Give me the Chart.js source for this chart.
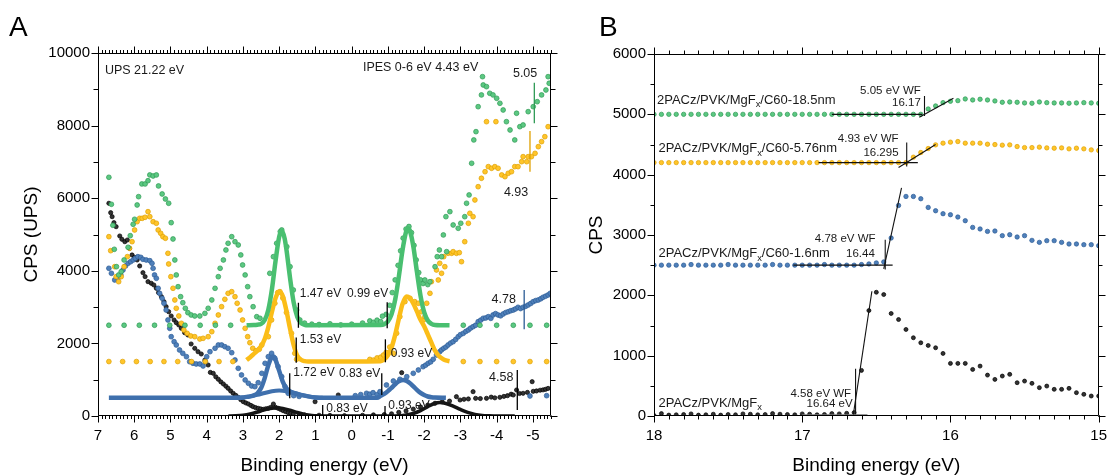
<!DOCTYPE html>
<html><head><meta charset="utf-8">
<script src="https://cdn.jsdelivr.net/npm/chart.js@4.4.1/dist/chart.umd.min.js"></script>
<style>
html,body{margin:0;padding:0;background:#fff;}
#wrap{position:relative;width:1118px;height:476px;overflow:hidden;}
canvas{position:absolute;top:0;}
#ca{left:0;}
#cb{left:565px;}
.lab{position:absolute;font:28px 'Liberation Sans',Arial,sans-serif;line-height:28px;color:#000;}
</style></head><body>
<div id="wrap">
<canvas id="ca" width="565" height="476"></canvas>
<canvas id="cb" width="553" height="476"></canvas>
<div class="lab" style="left:9px;top:13px">A</div>
<div class="lab" style="left:599px;top:13px">B</div>
</div>
<script>
// ---------------- Panel A data (binding energy eV, CPS) ----------------
const xTicksA = [7,6,5,4,3,2,1,0,-1,-2,-3,-4,-5];
const xTicksB = [18,17,16,15];

const greenUps = [[6.70,6576],[6.63,5832],[6.59,5254],[6.55,4592],[6.49,4113],[6.43,3885],[6.36,3976],[6.28,4298],[6.17,4648],[6.11,4967],[6.03,5281],[5.99,5419],[5.92,5813],[5.88,6042],[5.79,6392],[5.70,6392],[5.62,6482],[5.57,6640],[5.48,6612],[5.39,6640],[5.33,6337],[5.23,6116],[5.14,5978],[5.05,5860],[4.98,5326],[4.93,4876],[4.88,4298],[4.84,3885],[4.79,3562],[4.72,3287],[4.66,3121],[4.59,2967],[4.52,2846],[4.43,2783],[4.33,2755],[4.19,2755],[4.05,2828],[3.96,2967],[3.86,3196],[3.77,3517],[3.68,3838],[3.63,4069],[3.54,4298],[3.47,4573],[3.41,4758],[3.31,4940],[3.22,4802],[3.13,4711],[3.06,4436],[3.01,4160],[2.94,3885],[2.87,3562],[2.81,3287],[2.72,3011],[2.62,2736],[2.53,2692],[2.26,3931],[2.16,4389],[2.07,4758],[1.97,5080],[1.93,5124],[1.79,4664],[1.70,4113],[1.61,3471],[1.52,2920],[1.43,2645],[1.30,2560],[1.10,2530],[0.90,2520],[0.60,2540],[0.30,2510],[0.00,2530],[-0.30,2560],[-0.50,2620],[-0.60,2580],[-0.70,2640],[-0.80,2600],[-0.85,2750]];
const greenIpes = [[-0.95,2800],[-1.05,3050],[-1.12,3400],[-1.20,3750],[-1.28,4150],[-1.35,4550],[-1.42,4900],[-1.50,5150],[-1.58,5220],[-1.65,5050],[-1.72,4700],[-1.78,4300],[-1.85,3950],[-1.90,3750],[-1.97,3650],[-2.02,3747],[-2.10,3620],[-2.16,3700],[-2.30,4113],[-2.36,4389],[-2.42,4573],[-2.48,4389],[-2.53,4987],[-2.60,5491],[-2.62,4527],[-2.71,5629],[-2.80,5262],[-2.94,5171],[-3.01,5309],[-3.12,5491],[-3.17,5860],[-3.24,6089],[-3.31,6962],[-3.37,7604],[-3.43,7833],[-3.49,8521],[-3.58,8844],[-3.61,9348],[-3.63,9119],[-3.72,9073],[-3.81,8890],[-3.90,8844],[-4.00,8752],[-4.09,8615],[-4.18,8430],[-4.27,8108],[-4.37,7879],[-4.50,7604],[-4.55,8340],[-4.64,7970],[-4.73,8017],[-4.87,8384],[-5.01,8521],[-5.12,8659],[-5.24,8844],[-5.36,8981],[-5.42,9348],[-5.45,9166]];
const greenBase = [[6.70,2500],[6.28,2500],[5.86,2500],[5.44,2500],[5.02,2500],[4.60,2500],[4.18,2500],[3.76,2500],[3.34,2500],[-3.08,2500],[-3.54,2500],[-4.00,2500],[-4.46,2500],[-4.92,2500],[-5.38,2500]];
const greenFit = [[2.90,2500],[2.70,2505],[2.60,2515],[2.50,2536],[2.40,2642],[2.30,2930],[2.20,3496],[2.10,4278],[2.00,4938],[1.93,5100],[1.85,4890],[1.80,4582],[1.70,3796],[1.60,3122],[1.50,2729],[1.40,2564],[1.30,2512],[1.20,2500],[-0.80,2507],[-0.90,2530],[-1.00,2606],[-1.10,2802],[-1.20,3202],[-1.30,3830],[-1.40,4550],[-1.50,5073],[-1.56,5170],[-1.60,5127],[-1.70,4682],[-1.80,3974],[-1.90,3312],[-2.00,2863],[-2.10,2632],[-2.20,2539],[-2.30,2510],[-2.70,2500]];

const yellowUps = [[6.70,4940],[6.65,4554],[6.54,4113],[6.50,3838],[6.43,3700],[6.36,3838],[6.28,4113],[6.19,4389],[6.13,4620],[6.06,4802],[5.99,5124],[5.92,5353],[5.85,5446],[5.78,5446],[5.70,5474],[5.62,5629],[5.57,5491],[5.48,5353],[5.39,5309],[5.34,5124],[5.27,5033],[5.21,4940],[5.14,4896],[5.07,4482],[5.05,4188],[4.99,3838],[4.93,3518],[4.88,3196],[4.84,2967],[4.77,2755],[4.70,2554],[4.63,2369],[4.54,2278],[4.44,2204],[4.33,2185],[4.19,2121],[4.10,2140],[3.96,2185],[3.86,2322],[3.77,2554],[3.68,2783],[3.59,3011],[3.50,3215],[3.41,3380],[3.31,3425],[3.22,3287],[3.16,3105],[3.08,2920],[3.01,2645],[2.94,2415],[2.87,2185],[2.81,2019],[2.73,1865],[2.64,1799],[2.55,1838],[2.48,1956],[2.30,2185],[2.21,2645],[2.12,3105],[2.04,3400],[1.98,3425],[1.90,3250],[1.80,2850],[1.66,2278],[1.57,1727],[1.52,1562]];
const yellowIpes = [[-0.50,1560],[-0.60,1540],[-0.70,1600],[-0.80,1620],[-0.88,1680],[-0.95,1750],[-1.05,1900],[-1.15,1727],[-1.24,2278],[-1.33,2736],[-1.47,3150],[-1.61,3243],[-1.74,3150],[-1.84,3105],[-1.93,2873],[-1.98,2645],[-2.02,2736],[-2.07,3105],[-2.16,3380],[-2.20,3700],[-2.34,4022],[-2.39,3747],[-2.43,4206],[-2.48,3931],[-2.54,4389],[-2.57,4113],[-2.66,4482],[-2.76,4482],[-2.80,4527],[-2.89,4482],[-2.97,4500],[-3.03,4251],[-3.12,4802],[-3.22,5309],[-3.26,5584],[-3.35,5491],[-3.40,5951],[-3.49,6317],[-3.58,6549],[-3.68,6730],[-3.72,8108],[-3.77,6869],[-3.86,6824],[-3.95,6869],[-3.98,8108],[-4.04,6824],[-4.14,6640],[-4.23,6593],[-4.32,6686],[-4.41,6730],[-4.50,6869],[-4.59,6869],[-4.69,7006],[-4.73,7144],[-4.83,7006],[-4.87,7144],[-4.96,7144],[-5.06,7236],[-5.15,7420],[-5.24,7558],[-5.33,7695],[-5.42,7970]];
const yellowBase = [[6.70,1500],[6.32,1500],[5.94,1500],[5.56,1500],[5.18,1500],[4.80,1500],[4.42,1500],[4.04,1500],[3.66,1500],[3.28,1500],[-3.08,1500],[-3.54,1500],[-4.00,1500],[-4.46,1500],[-4.92,1500],[-5.38,1500]];
const yellowFit = [[2.90,1540],[2.80,1620],[2.70,1710],[2.60,1800],[2.50,1920],[2.40,2120],[2.30,2450],[2.20,2870],[2.10,3250],[2.00,3425],[1.95,3400],[1.90,3300],[1.80,2900],[1.70,2400],[1.60,1950],[1.50,1660],[1.40,1550],[1.30,1510],[1.20,1500],[-0.80,1510],[-0.90,1563],[-1.00,1671],[-1.10,1887],[-1.20,2236],[-1.30,2675],[-1.40,3080],[-1.52,3290],[-1.60,3250],[-1.70,3100],[-1.80,2880],[-1.90,2650],[-2.00,2470],[-2.10,2250],[-2.20,2020],[-2.30,1800],[-2.40,1660],[-2.50,1580],[-2.60,1530],[-2.70,1510]];

const blueUps = [[6.70,4069],[6.63,3931],[6.54,3747],[6.45,3793],[6.37,3885],[6.31,4022],[6.24,4133],[6.17,4206],[6.10,4251],[6.03,4298],[5.97,4344],[5.90,4389],[5.82,4371],[5.76,4316],[5.67,4298],[5.57,4279],[5.51,4206],[5.48,4069],[5.44,3885],[5.39,3793],[5.34,3518],[5.30,3380],[5.23,3243],[5.18,3105],[5.12,2920],[5.07,2645],[5.02,2415],[4.98,2185],[4.90,2047],[4.84,1956],[4.75,1818],[4.66,1727],[4.56,1634],[4.47,1496],[4.38,1452],[4.29,1433],[4.19,1433],[4.10,1378],[4.04,1496],[4.00,1634],[3.91,1771],[3.77,1865],[3.68,1956],[3.59,1956],[3.50,1910],[3.41,1865],[3.31,1744],[3.22,1543],[3.13,1314],[3.04,1130],[2.94,992],[2.85,901],[2.76,827],[2.67,807],[2.58,917],[2.48,1176],[2.39,1452],[2.30,1634],[2.21,1727],[2.12,1590],[2.03,1358],[1.93,1083],[1.84,807],[1.75,624],[1.60,560],[1.45,540]];
const blueIpes = [[-0.10,560],[-0.25,590],[-0.41,625],[-0.50,600],[-0.59,642],[-0.70,590],[-0.78,670],[-0.96,854],[-1.15,964],[-1.33,1011],[-1.52,1083],[-1.70,1176],[-1.84,1267],[-1.97,1358],[-2.04,1400],[-2.11,1452],[-2.18,1490],[-2.25,1562],[-2.34,1680],[-2.43,1771],[-2.48,1820],[-2.54,1865],[-2.60,1900],[-2.66,1956],[-2.73,2010],[-2.80,2047],[-2.87,2110],[-2.94,2185],[-3.00,2240],[-3.08,2278],[-3.15,2330],[-3.22,2369],[-3.28,2420],[-3.35,2460],[-3.42,2500],[-3.49,2598],[-3.56,2640],[-3.63,2692],[-3.70,2700],[-3.77,2736],[-3.84,2690],[-3.90,2783],[-3.97,2820],[-4.04,2783],[-4.11,2760],[-4.18,2810],[-4.25,2850],[-4.32,2873],[-4.39,2900],[-4.46,2920],[-4.52,2950],[-4.59,2995],[-4.66,2960],[-4.73,2995],[-4.80,3020],[-4.87,3058],[-4.94,3100],[-5.01,3150],[-5.08,3180],[-5.15,3196],[-5.22,3230],[-5.28,3270],[-5.35,3300],[-5.42,3334],[-5.48,3380],[-4.92,551],[-5.38,560]];
const blueFit = [[6.70,500],[3.20,500],[3.00,510],[2.90,527],[2.80,541],[2.70,569],[2.60,627],[2.50,770],[2.40,1045],[2.30,1401],[2.20,1625],[2.15,1640],[2.10,1545],[2.00,1242],[1.90,940],[1.80,760],[1.70,678],[1.60,637],[1.40,582],[1.20,540],[1.00,510],[0.80,500],[-0.70,500],[-0.80,558],[-0.90,610],[-1.00,685],[-1.10,778],[-1.20,876],[-1.30,954],[-1.42,992],[-1.50,975],[-1.60,911],[-1.70,818],[-1.80,721],[-1.90,637],[-2.00,576],[-2.10,538],[-2.20,517],[-2.30,507],[-2.60,500]];
const blueBroad = [[3.20,503],[3.00,510],[2.80,540],[2.60,582],[2.40,634],[2.20,682],[2.00,700],[1.80,682],[1.60,634],[1.40,582],[1.20,540],[1.00,510],[0.80,503]];

const blackUps = [[6.70,5860],[6.65,5601],[6.61,5491],[6.56,5326],[6.50,5215],[6.40,4959],[6.34,4868],[6.26,4802],[6.19,4849],[6.13,4620],[6.06,4436],[5.99,4371],[5.92,4298],[5.85,4133],[5.76,3948],[5.70,3838],[5.62,3700],[5.53,3656],[5.46,3609],[5.39,3518],[5.33,3397],[5.25,3287],[5.18,3150],[5.12,3011],[5.05,2873],[4.98,2755],[4.90,2645],[4.84,2570],[4.77,2507],[4.70,2415],[4.61,2295],[4.52,2232],[4.43,1984],[4.33,1865],[4.24,1771],[4.15,1708],[4.05,1543],[3.96,1405],[3.90,1200],[3.82,1176],[3.75,1080],[3.68,1011],[3.61,940],[3.54,882],[3.47,820],[3.41,763],[3.34,690],[3.27,625],[3.20,570],[3.13,515],[3.06,450],[2.99,394],[2.92,360],[2.85,331],[2.78,290],[2.72,256],[2.65,230],[2.58,212],[2.51,195],[2.44,184],[2.37,200],[2.30,212],[2.23,240],[2.16,330],[2.10,240],[2.03,212],[1.96,180],[1.89,146],[1.82,120],[1.75,91],[1.68,70],[1.61,55],[1.45,40],[1.30,30],[1.01,394],[0.90,20],[0.60,15],[0.37,579],[0.20,10]];
const blackIpes = [[-0.30,20],[-0.60,30],[-0.90,40],[-1.10,60],[-1.38,1193],[-1.30,100],[-1.50,140],[-1.70,190],[-1.90,250],[-2.10,300],[-2.30,350],[-2.50,390],[-2.70,410],[-2.89,532],[-2.99,441],[-3.10,460],[-3.22,470],[-3.35,670],[-3.42,487],[-3.55,480],[-3.72,487],[-3.85,520],[-3.95,500],[-4.09,515],[-4.20,540],[-4.30,560],[-4.40,600],[-4.46,579],[-4.55,716],[-4.63,620],[-4.73,625],[-4.85,650],[-4.98,945],[-5.01,680],[-5.10,690],[-5.20,710],[-5.28,720],[-5.35,735],[-5.42,760]];
const blackFit = [[3.40,0],[3.20,5],[3.00,20],[2.80,55],[2.60,110],[2.40,175],[2.20,215],[2.07,225],[1.90,210],[1.70,160],[1.50,95],[1.30,45],[1.10,15],[0.90,5],[0.70,0],[-1.10,0],[-1.30,5],[-1.50,25],[-1.70,70],[-1.90,150],[-2.10,260],[-2.30,350],[-2.43,370],[-2.60,345],[-2.80,270],[-3.00,180],[-3.20,100],[-3.40,45],[-3.60,15],[-3.80,5],[-4.00,0],[-4.50,0]];

// onset / edge markers in panel A: energy, low CPS, high CPS
const markerEnergy = [1.47, 1.53, 1.71, -0.98, -0.93, -0.83, 0.80, -0.92, -5.04, -4.92, -4.76, -4.57];
const markerLow    = [2430, 1470, 490, 2416, 1479, 579, 0, 0, 8064, 6731, 2388, 165];
const markerHigh   = [3120, 2160, 1180, 3132, 2113, 1176, 303, 275, 9183, 7852, 3471, 1267];
const markerSeries = ['black','black','black','black','black','black','black','black','green','yellow','blue','black'];

const notesA = [
  ['UPS 21.22 eV', 6.81, 9505, 'left', 12.5],
  ['IPES 0-6 eV 4.43 eV', -0.31, 9587, 'left', 12.5],
  ['5.05', -4.45, 9441, 'left', 12.5],
  ['4.93', -4.20, 6163, 'left', 12.5],
  ['4.78', -3.86, 3196, 'left', 12.5],
  ['4.58', -3.79, 1066, 'left', 12.5],
  ['1.47 eV', 1.43, 3380, 'left', 12],
  ['1.53 eV', 1.43, 2094, 'left', 12],
  ['1.72 eV', 1.61, 1194, 'left', 12],
  ['0.99 eV', -1.01, 3380, 'right', 12],
  ['0.93 eV', -1.08, 1727, 'left', 12],
  ['0.83 eV', -0.79, 1176, 'right', 12],
  ['0.83 eV', 0.70, 212, 'left', 12],
  ['0.93 eV', -1.01, 275, 'left', 12]
];

// ---------------- Panel B data ----------------
const bEnergy = [18.00,17.95,17.90,17.85,17.80,17.75,17.70,17.65,17.60,17.55,17.50,17.45,17.40,17.35,17.30,17.25,17.20,17.15,17.10,17.05,17.00,16.95,16.90,16.85,16.80,16.75,16.70,16.65,16.60,16.55,16.50,16.45,16.40,16.35,16.30,16.25,16.20,16.15,16.10,16.05,16.00,15.95,15.90,15.85,15.80,15.75,15.70,15.65,15.60,15.55,15.50,15.45,15.40,15.35,15.30,15.25,15.20,15.15,15.10,15.05,15.00];
const cpsC60_185 = [5000,5000,5000,5000,5000,5000,5000,5000,5000,5000,5000,5000,5000,5000,5000,5000,5000,5000,5000,5000,5000,5000,5000,5000,5000,5000,5000,5000,5000,5000,5000,5000,5000,5000,5000,5000,5000,5089,5139,5194,5217,5227,5255,5238,5250,5238,5222,5200,5205,5200,5189,5184,5205,5194,5189,5189,5184,5189,5194,5189,5184];
const cpsC60_576 = [4200,4200,4200,4200,4200,4200,4200,4200,4200,4200,4200,4200,4200,4200,4200,4200,4200,4200,4200,4200,4200,4200,4200,4200,4200,4200,4200,4200,4200,4200,4200,4200,4200,4200,4200,4290,4367,4433,4494,4522,4539,4549,4522,4522,4522,4505,4499,4489,4494,4466,4449,4449,4456,4444,4439,4444,4428,4439,4428,4411,4400];
const cpsC60_16 = [2500,2500,2500,2500,2500,2510,2500,2500,2500,2500,2510,2500,2500,2500,2500,2500,2510,2500,2500,2500,2500,2500,2500,2510,2500,2500,2500,2500,2510,2520,2537,2554,2950,3490,3639,3639,3601,3457,3402,3353,3336,3298,3237,3126,3100,3060,3066,2989,3005,2967,2989,2911,2878,2906,2906,2878,2851,2851,2840,2840,2823];
const cpsMgF = [10,40,15,20,25,35,15,20,30,15,25,20,35,30,20,25,40,30,25,20,35,30,20,25,40,35,45,56,756,1748,2051,2013,1699,1599,1434,1297,1214,1169,1131,1037,872,872,872,772,827,678,607,662,690,552,579,541,470,496,442,442,458,387,359,331,331];

// linear fits for work-function cut-offs: [start],[end]
const fitsB = [
  [[16.80,5000],[16.19,5000]], [[16.21,4952],[15.98,5266]], [[16.175,4974],[16.175,5305]],
  [[16.89,4200],[16.22,4200]], [[16.35,4120],[16.10,4500]], [[16.295,4135],[16.295,4532]],
  [[17.06,2500],[16.39,2500]], [[16.45,2440],[16.33,3780]], [[16.44,2427],[16.44,2923]],
  [[16.655,28],[16.53,2068]], [[16.64,28],[16.64,784]]
];
const baseMgF = [[17.00,12],[16.56,12]];

const notesB = [
  ['2PACz/PVK/MgF_x/C60-18.5nm', 17.98, 5238, 'left', 13],
  ['2PACz/PVK/MgF_x/C60-5.76nm', 17.97, 4428, 'left', 13],
  ['2PACz/PVK/MgF_x/C60-1.6nm', 17.97, 2691, 'left', 13],
  ['2PACz/PVK/MgF_x', 17.97, 210, 'left', 13],
  ['5.05 eV WF', 16.20, 5392, 'right', 11.5],
  ['16.17', 16.20, 5184, 'right', 11.5],
  ['4.93 eV WF', 16.35, 4588, 'right', 11.5],
  ['16.295', 16.35, 4357, 'right', 11.5],
  ['4.78 eV WF', 16.505, 2939, 'right', 11.5],
  ['16.44', 16.51, 2691, 'right', 11.5],
  ['4.58 eV WF', 16.67, 375, 'right', 11.5],
  ['16.64 eV', 16.66, 210, 'right', 11.5]
];

// ---------------- styling / helpers ----------------
const FONT = "'Liberation Sans', Arial, Helvetica, sans-serif";
Chart.defaults.font.family = FONT;
Chart.defaults.color = '#000';
const COL = {
  green:  {fill:'#5cc882', edge:'#2f9a55', line:'#49bf70'},
  yellow: {fill:'#ffc52a', edge:'#dfa000', line:'#fbbd18'},
  blue:   {fill:'#4f80ba', edge:'#2c5c96', line:'#3f70ad'},
  black:  {fill:'#333333', edge:'#000000', line:'#151515'}
};
const xy = a => a.map(p => ({x:p[0], y:p[1]}));
const dots = (a, c, r) => ({data: xy(a), showLine:false, pointRadius:r, pointBackgroundColor:c.fill, pointBorderColor:c.edge, pointBorderWidth:0.7});
const curve = (a, color, w) => ({data: xy(a), showLine:true, borderColor:color, borderWidth:w, pointRadius:0, tension:0.4, cubicInterpolationMode:'monotone', fill:false});
const seg = (a, color, w) => ({data: xy(a), showLine:true, borderColor:color, borderWidth:w, pointRadius:0, tension:0, fill:false});

function richText(ctx, text, x, y, align, size) {
  const parts = text.split('_x');
  const sub = size * 0.72;
  const f = s => s + 'px ' + FONT;
  let total = 0;
  parts.forEach((p, i) => {
    ctx.font = f(size); total += ctx.measureText(p).width;
    if (i < parts.length - 1) { ctx.font = f(sub); total += ctx.measureText('x').width; }
  });
  let cx = align === 'right' ? x - total : (align === 'center' ? x - total / 2 : x);
  ctx.textAlign = 'left';
  parts.forEach((p, i) => {
    ctx.font = f(size); ctx.fillText(p, cx, y); cx += ctx.measureText(p).width;
    if (i < parts.length - 1) { ctx.font = f(sub); ctx.fillText('x', cx, y + size * 0.33); cx += ctx.measureText('x').width; }
  });
}

const notesPlugin = {
  id: 'notes',
  afterDatasetsDraw(chart, args, o) {
    const {ctx, scales: {x, y}} = chart;
    ctx.save(); ctx.fillStyle = '#1a1a1a'; ctx.textBaseline = 'middle';
    for (const n of o.items) richText(ctx, n[0], x.getPixelForValue(n[1]), y.getPixelForValue(n[2]), n[3], n[4] || o.size);
    ctx.restore();
  }
};

const framePlugin = {
  id: 'frame',
  afterDraw(chart, args, o) {
    const {ctx, chartArea: a, scales: {x, y}} = chart;
    const L = Math.round(a.left) + 0.5, R = Math.round(a.right) - 0.5, T = Math.round(a.top) + 0.5, B = Math.round(a.bottom) - 0.5;
    ctx.save(); ctx.strokeStyle = '#000'; ctx.lineWidth = 1;
    ctx.beginPath(); ctx.rect(L, T, R - L, B - T);
    const lo = Math.min(x.min, x.max), hi = Math.max(x.min, x.max);
    const xt = (step, len) => {
      for (let k = Math.ceil(lo / step - 1e-6); k <= Math.floor(hi / step + 1e-6); k++) {
        const px = Math.round(x.getPixelForValue(k * step)) + 0.5;
        ctx.moveTo(px, B); ctx.lineTo(px, B + len); ctx.moveTo(px, T); ctx.lineTo(px, T - len);
      }
    };
    const yt = (step, len) => {
      for (let k = Math.ceil(y.min / step - 1e-6); k <= Math.floor(y.max / step + 1e-6); k++) {
        const py = Math.round(y.getPixelForValue(k * step)) + 0.5;
        ctx.moveTo(L, py); ctx.lineTo(L - len, py); ctx.moveTo(R, py); ctx.lineTo(R + len, py);
      }
    };
    xt(o.xMinor, o.minorLen); xt(o.xMajor, o.majorLen);
    yt(o.yMinor, o.yMinorLen); yt(o.yMajor, o.majorLen);
    ctx.stroke(); ctx.restore();
  }
};

function makeOptions(c) {
  return {
    responsive: false, animation: false, devicePixelRatio: 1, events: [],
    layout: {padding: {left: c.padL, right: c.padR, top: c.padT, bottom: 0}},
    plugins: {legend: {display: false}, tooltip: {enabled: false},
      frame: c.frame, notes: {items: c.notes, size: c.noteSize}},
    scales: {
      x: {type: 'linear', reverse: true, min: c.xmin, max: c.xmax,
        grid: {display: false, drawTicks: false}, border: {display: false},
        ticks: {padding: 11, autoSkip: false, maxRotation: 0, font: {size: 15}, color: '#000',
          callback: v => String(v)},
        afterBuildTicks: s => { s.ticks = c.xTicks.map(v => ({value: v})); },
        afterFit: s => { s.height = 60; },
        title: {display: true, text: 'Binding energy (eV)', color: '#000', font: {size: 19, lineHeight: 1}, padding: {top: 0, bottom: 1}}},
      y: {type: 'linear', min: 0, max: c.ymax,
        grid: {display: false, drawTicks: false}, border: {display: false},
        ticks: {stepSize: c.yStep, padding: 8, autoSkip: false, font: {size: 15}, color: '#000', callback: v => String(v)},
        afterFit: s => { s.width = c.yWidth; },
        title: {display: true, text: c.yTitle, color: '#000', font: {size: 19, lineHeight: 1}, padding: {top: 2, bottom: 0}}}
    }
  };
}

// ---------------- Panel A ----------------
const dsA = [];
markerEnergy.forEach((e, i) => dsA.push(seg([[e, markerLow[i]], [e, markerHigh[i]]], markerSeries[i] === 'black' ? '#000' : COL[markerSeries[i]].edge, 1.3)));
dsA.push(curve(greenFit, COL.green.line, 4.5), dots(greenUps, COL.green, 2.4), dots(greenIpes, COL.green, 2.4), dots(greenBase, COL.green, 2.4));
dsA.push(curve(yellowFit, COL.yellow.line, 4.5), dots(yellowUps, COL.yellow, 2.4), dots(yellowIpes, COL.yellow, 2.4), dots(yellowBase, COL.yellow, 2.4));
dsA.push(curve(blueFit, COL.blue.line, 4.5), curve(blueBroad, COL.blue.line, 4), dots(blueUps, COL.blue, 2.4), dots(blueIpes, COL.blue, 2.4));
dsA.push(curve(blackFit, COL.black.line, 3.5), dots(blackUps, COL.black, 2.1), dots(blackIpes, COL.black, 2.1));

new Chart(document.getElementById('ca'), {
  type: 'scatter',
  data: {datasets: dsA},
  options: makeOptions({padL: 20, padR: 14, padT: 53, yWidth: 78, xmin: -5.5, xmax: 7, ymax: 10000, yStep: 2000,
    xTicks: xTicksA, yTitle: 'CPS (UPS)', notes: notesA, noteSize: 12.5,
    frame: {xMajor: 1, xMinor: 0.1, yMajor: 2000, yMinor: 1000, majorLen: 7, minorLen: 3.5, yMinorLen: 5}}),
  plugins: [framePlugin, notesPlugin]
});

// ---------------- Panel B ----------------
const bSeries = (ys) => bEnergy.map((e, i) => [e, ys[i]]);
const dsB = [];
fitsB.forEach(f => dsB.push(seg(f, '#111', 1.1)));
dsB.push(seg(baseMgF, '#777', 2));
dsB.push(dots(bSeries(cpsC60_185), COL.green, 2.2));
dsB.push(dots(bSeries(cpsC60_576), COL.yellow, 2.2));
dsB.push(dots(bSeries(cpsC60_16), COL.blue, 2.2));
dsB.push(dots(bSeries(cpsMgF), COL.black, 2.0));

new Chart(document.getElementById('cb'), {
  type: 'scatter',
  data: {datasets: dsB},
  options: makeOptions({padL: 20, padR: 12, padT: 54, yWidth: 69, xmin: 15, xmax: 18, ymax: 6000, yStep: 1000,
    xTicks: xTicksB, yTitle: 'CPS', notes: notesB, noteSize: 13,
    frame: {xMajor: 1, xMinor: 0.1, yMajor: 1000, yMinor: 500, majorLen: 7, minorLen: 4, yMinorLen: 4}}),
  plugins: [framePlugin, notesPlugin]
});
</script>
</body></html>
